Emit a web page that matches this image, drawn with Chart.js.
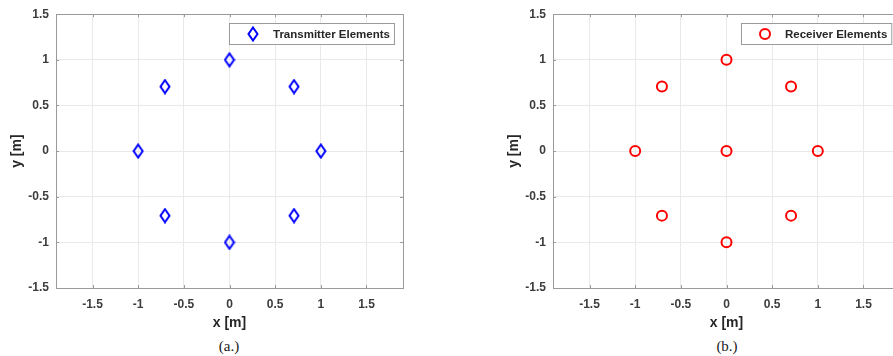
<!DOCTYPE html>
<html>
<head>
<meta charset="utf-8">
<script src="https://cdn.jsdelivr.net/npm/chart.js@4/dist/chart.umd.min.js"></script>
<style>
  html, body { margin: 0; padding: 0; background: #fff; }
  body { width: 893px; height: 356px; overflow: hidden; position: relative; }
  .plot { position: absolute; top: 0; width: 413px; height: 335px; }
  .cap { position: absolute; top: 338px; font: 15px "Liberation Serif", "Times New Roman", serif; color: #222; transform: translateX(-50%); }
</style>
</head>
<body>
<div class="plot" style="left:0"><canvas id="txChart" width="413" height="335"></canvas></div>
<div class="plot" style="left:497px"><canvas id="rxChart" width="413" height="335"></canvas></div>
<div class="cap" style="left:229px">(a.)</div>
<div class="cap" style="left:727px">(b.)</div>
<script>
// element positions (m)
var txX = [1, 0.707, 0, -0.707, -1, -0.707, 0, 0.707];
var txY = [0, 0.707, 1, 0.707, 0, -0.707, -1, -0.707];
var rxX = [1, 0.707, 0, -0.707, -1, -0.707, 0, 0.707, 0];
var rxY = [0, 0.707, 1, 0.707, 0, -0.707, -1, -0.707, 0];
var tickVals = [-1.5, -1, -0.5, 0, 0.5, 1, 1.5];

var tickFont = { family: '"Liberation Sans", Arial, sans-serif', size: 12, weight: 'bold' };
var titleFont = { family: '"Liberation Sans", Arial, sans-serif', size: 14, weight: 'bold' };

// matlab style diamond marker
function diamond(color) {
    var c = document.createElement('canvas');
    c.width = 12; c.height = 16;
    var g = c.getContext('2d');
    g.strokeStyle = color;
    g.lineWidth = 2;
    g.beginPath();
    g.moveTo(6, 1.5); g.lineTo(10.5, 8); g.lineTo(6, 14.5); g.lineTo(1.5, 8);
    g.closePath();
    g.stroke();
    return c;
}

function points(xs, ys) {
    return xs.map(function (x, i) { return { x: x, y: ys[i] }; });
}

// box around the axes plus inward tick marks
var frame = {
    id: 'frame',
    beforeDatasetsDraw: function (chart) {
        var a = chart.chartArea, ctx = chart.ctx;
        var sx = chart.scales.x, sy = chart.scales.y;
        ctx.save();
        ctx.strokeStyle = '#9a9a9a';
        ctx.lineWidth = 1;
        ctx.strokeRect(Math.round(a.left) + 0.5, Math.round(a.top) + 0.5, Math.round(a.right - a.left), Math.round(a.bottom - a.top));
        ctx.beginPath();
        tickVals.forEach(function (v) {
            var px = Math.round(sx.getPixelForValue(v)) + 0.5;
            ctx.moveTo(px, a.top); ctx.lineTo(px, a.top + 3);
            ctx.moveTo(px, a.bottom); ctx.lineTo(px, a.bottom - 3);
            var py = Math.round(sy.getPixelForValue(v)) + 0.5;
            ctx.moveTo(a.left, py); ctx.lineTo(a.left + 3, py);
            ctx.moveTo(a.right, py); ctx.lineTo(a.right - 3, py);
        });
        ctx.stroke();
        ctx.restore();
    }
};

// legend box in the upper right corner of the axes
var boxLegend = {
    id: 'boxLegend',
    afterDraw: function (chart) {
        var a = chart.chartArea, ctx = chart.ctx;
        var ds = chart.data.datasets[0];
        ctx.save();
        ctx.font = 'bold 11.5px "Liberation Sans", Arial, sans-serif';
        var tw = ctx.measureText(ds.label).width;
        var w = tw + 48, h = 21;
        var x = Math.round(a.right - 9 - w), y = Math.round(a.top + 9);
        ctx.fillStyle = '#fff';
        ctx.fillRect(x, y, w, h);
        ctx.strokeStyle = '#9a9a9a';
        ctx.lineWidth = 1;
        ctx.strokeRect(x + 0.5, y + 0.5, w, h);
        ctx.strokeStyle = ds.borderColor;
        ctx.lineWidth = ds.pointBorderWidth;
        Chart.helpers.drawPoint(ctx, {
            pointStyle: ds.pointStyle, radius: ds.pointRadius, borderWidth: ds.pointBorderWidth, rotation: 0
        }, x + 24, y + h / 2 + 0.5);
        ctx.fillStyle = '#262626';
        ctx.textBaseline = 'middle';
        ctx.fillText(ds.label, x + 44, y + h / 2 + 1);
        ctx.restore();
    }
};

function makeChart(id, label, xs, ys, color, style) {
    return new Chart(document.getElementById(id), {
        type: 'scatter',
        data: {
            datasets: [{
                label: label,
                data: points(xs, ys),
                borderColor: color,
                backgroundColor: 'rgba(0,0,0,0)',
                pointStyle: style,
                pointRadius: 5,
                pointBorderWidth: 2,
                pointHoverRadius: 5
            }]
        },
        options: {
            responsive: false,
            animation: false,
            devicePixelRatio: 1,
            layout: { padding: { top: 14, right: 10, left: 0, bottom: 0 } },
            plugins: {
                legend: { display: false },
                tooltip: { enabled: false }
            },
            scales: {
                x: {
                    type: 'linear',
                    min: -1.9,
                    max: 1.9,
                    afterBuildTicks: function (s) { s.ticks = tickVals.map(function (v) { return { value: v }; }); },
                    afterFit: function (s) { s.height = 47; },
                    grid: { color: '#e9e9e9', drawTicks: false },
                    border: { display: false },
                    ticks: {
                        font: tickFont, color: '#3c3c3c', padding: 9, maxRotation: 0,
                        callback: function (v) { return String(v); }
                    },
                    title: { display: true, text: 'x [m]', font: titleFont, color: '#262626', padding: { top: 0, bottom: 3 } }
                },
                y: {
                    type: 'linear',
                    min: -1.5,
                    max: 1.5,
                    afterBuildTicks: function (s) { s.ticks = tickVals.map(function (v) { return { value: v }; }); },
                    afterFit: function (s) { s.width = 56; },
                    grid: { color: '#e9e9e9', drawTicks: false },
                    border: { display: false },
                    ticks: {
                        font: tickFont, color: '#3c3c3c', padding: 7,
                        callback: function (v) { return String(v); }
                    },
                    title: { display: true, text: 'y [m]', font: titleFont, color: '#262626', padding: { top: 9, bottom: 0 } }
                }
            }
        },
        plugins: [frame, boxLegend]
    });
}

makeChart('txChart', 'Transmitter Elements', txX, txY, '#0000ff', diamond('#0000ff'));
makeChart('rxChart', 'Receiver Elements', rxX, rxY, '#ff0000', 'circle');
</script>
</body>
</html>
